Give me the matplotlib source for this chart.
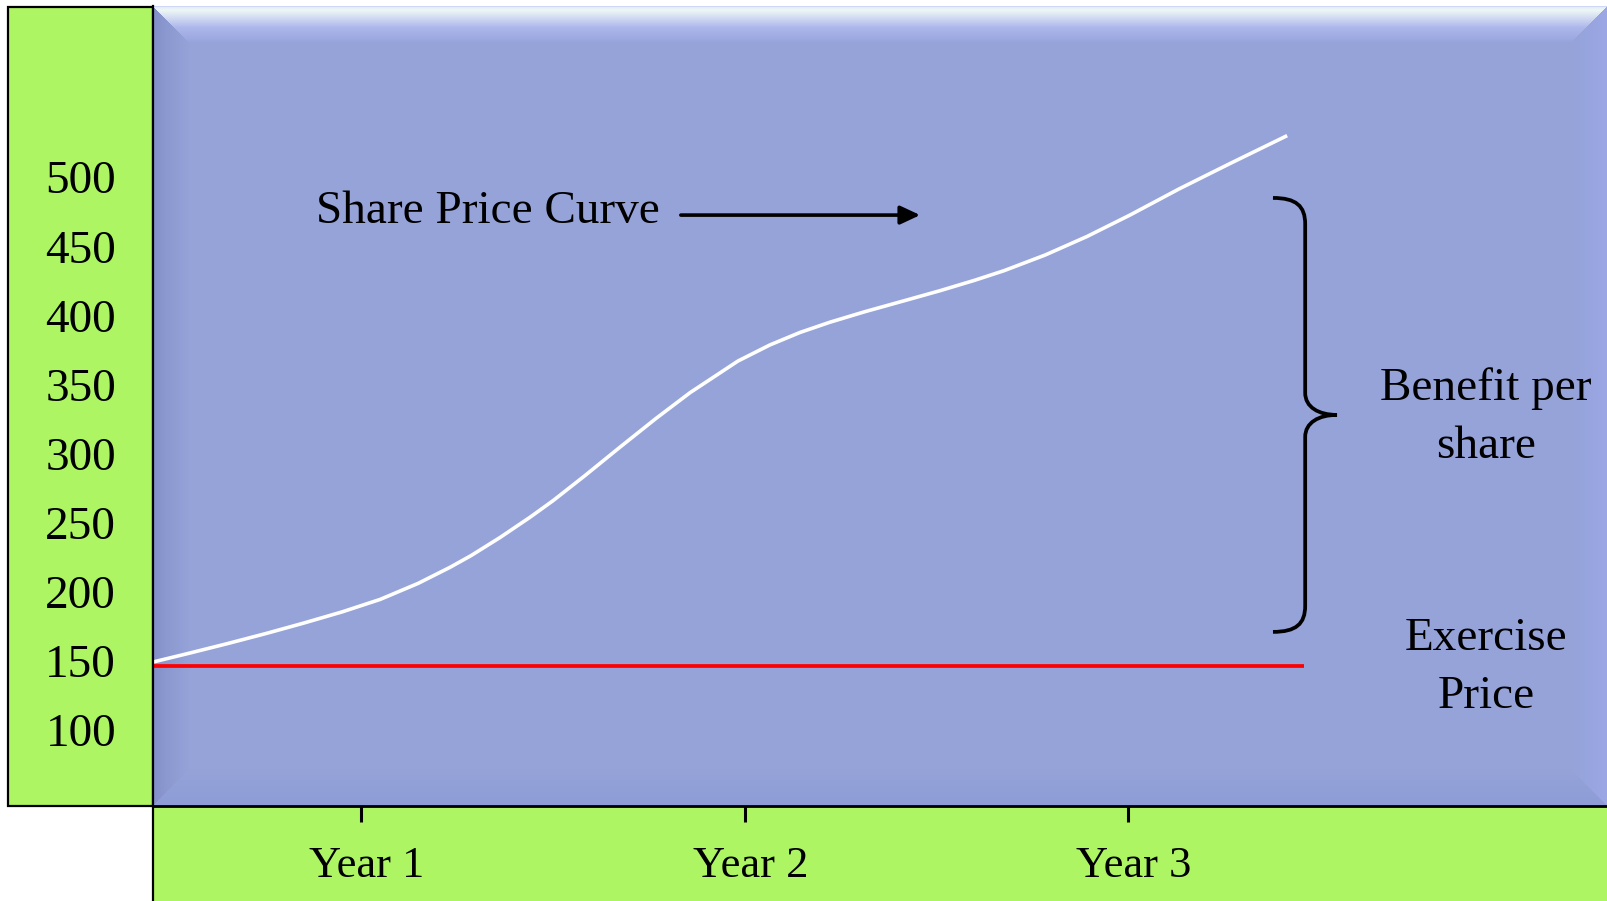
import numpy as np
import matplotlib
matplotlib.use("Agg")
import matplotlib.pyplot as plt
from matplotlib.patches import Rectangle, PathPatch
from matplotlib.path import Path
from matplotlib.transforms import ScaledTranslation

plt.rcParams['font.family'] = ['Liberation Serif', 'DejaVu Serif']

# data
year_ticks = [1, 2, 3]
year_labels = ['Year 1', 'Year 2', 'Year 3']
price_ticks = [100, 150, 200, 250, 300, 350, 400, 450, 500]

curve_x = [0.458, 0.554, 0.653, 0.752, 0.851, 0.950, 1.050, 1.149, 1.232, 1.287,
           1.362, 1.441, 1.501, 1.584, 1.675, 1.769, 1.858, 1.983, 2.066, 2.145,
           2.223, 2.314, 2.411, 2.510, 2.601, 2.677, 2.784, 2.893, 3.005, 3.133,
           3.266, 3.415]
curve_y = [149.2, 155.7, 162.6, 169.8, 177.4, 185.4, 194.5, 206.1, 217.7, 226.2,
           239.2, 254.0, 266.0, 284.1, 304.6, 325.4, 344.1, 367.0, 378.6, 387.7,
           395.1, 402.7, 410.2, 417.9, 425.5, 432.4, 443.7, 457.1, 472.6, 491.5,
           509.9, 530.1]

exercise_price = 146.3
exercise_x = [0.458, 3.459]

brace_top = 485.0
brace_bottom = 171.0
brace_x = 3.462

GREEN = '#adf562'
BASE = np.array([149, 163, 217]) / 255.0

W, H, DPI = 1607, 901, 100
fig = plt.figure(figsize=(W / DPI, H / DPI), dpi=DPI, facecolor='white')

# blue plot panel
ax_l, ax_t, ax_r, ax_b = 153, 6, 1607, 806
ax = fig.add_axes([ax_l / W, (H - ax_b) / H, (ax_r - ax_l) / W, (ax_b - ax_t) / H])
ax.set_facecolor('none')
xlim = (0.4576, 4.249)
ylim = (45.0, 623.9)

# green side panels
fig.add_artist(Rectangle((8 / W, (H - 806) / H), 145 / W, 799 / H, transform=fig.transFigure,
                         facecolor=GREEN, edgecolor='black', lw=1.6, zorder=-2))
fig.add_artist(Rectangle((153 / W, -10 / H), 1.1, (H - 806 + 10) / H, transform=fig.transFigure,
                         facecolor=GREEN, edgecolor='black', lw=1.6, zorder=-2))


def bevel_image(h, w, bw=37.0):
    yy, xx = np.mgrid[0:h, 0:w].astype(float)
    dist = np.stack([yy + 0.5, h - yy - 0.5, xx + 0.5, w - xx - 0.5])
    side = np.argmin(dist, axis=0)
    d = np.min(dist, axis=0)
    base = tuple(BASE * 255)
    stops = {
        0: ([0, 1.5, 4, 10, 22, 32, bw],
            [(196, 204, 246), (228, 238, 246), (238, 247, 245), (216, 226, 243),
             (172, 182, 234), (158, 170, 226), base]),
        1: ([0, 3, bw], [(140, 153, 214), (143, 157, 215), base]),
        2: ([0, 12, bw], [(130, 142, 200), (139, 152, 207), base]),
        3: ([0, 14, bw], [(156, 168, 230), (152, 165, 224), base]),
    }
    img = np.ones((h, w, 3)) * BASE
    for s, (pos, cols) in stops.items():
        cols = np.array(cols) / 255.0
        m = (side == s) & (d < bw)
        for c in range(3):
            img[..., c][m] = np.interp(d[m], pos, cols[:, c])
    return img


ax.imshow(bevel_image(ax_b - ax_t, ax_r - ax_l), extent=(xlim[0], xlim[1], ylim[0], ylim[1]),
          aspect='auto', origin='upper', interpolation='nearest', zorder=0)

# exercise price and share price curve
ax.plot(exercise_x, [exercise_price, exercise_price], color='#ff0000', lw=2.7,
        solid_capstyle='butt', zorder=3)
ax.plot(curve_x, curve_y, color='white', lw=2.6, solid_joinstyle='round',
        solid_capstyle='butt', zorder=4)

# brace
tip_x = brace_x - 0.084
pt_x = brace_x + 0.083
mid = (brace_top + brace_bottom) / 2
h1, h2 = 19.0, 16.0
verts = [(tip_x, brace_top),
         (tip_x + 0.06, brace_top), (brace_x, brace_top - 0.3 * h1), (brace_x, brace_top - h1),
         (brace_x, mid + h2),
         (brace_x, mid + 0.35 * h2), (brace_x + 0.035, mid), (pt_x, mid),
         (brace_x + 0.035, mid), (brace_x, mid - 0.35 * h2), (brace_x, mid - h2),
         (brace_x, brace_bottom + h1),
         (brace_x, brace_bottom + 0.3 * h1), (tip_x + 0.06, brace_bottom), (tip_x, brace_bottom)]
codes = [Path.MOVETO] + [Path.CURVE4] * 3 + [Path.LINETO] + [Path.CURVE4] * 6 + \
        [Path.LINETO] + [Path.CURVE4] * 3
ax.add_patch(PathPatch(Path(verts, codes), facecolor='none', edgecolor='black', lw=2.7, zorder=5))

# labels
ax.text(0.883, 466.9, 'Share Price Curve', fontsize=34, ha='left', va='baseline', zorder=6)
ax.annotate('', xy=(2.458, 472.6), xytext=(1.834, 472.6),
            arrowprops=dict(arrowstyle='-|>,head_length=0.6,head_width=0.28', mutation_scale=20,
                            lw=2.6, color='black', shrinkA=0, shrinkB=0), zorder=6)
ax.text(3.933, 338.8, 'Benefit per', fontsize=34, ha='center', va='baseline', zorder=6)
ax.text(3.933, 296.8, 'share', fontsize=34, ha='center', va='baseline', zorder=6)
ax.text(3.933, 157.9, 'Exercise', fontsize=34, ha='center', va='baseline', zorder=6)
ax.text(3.933, 115.9, 'Price', fontsize=34, ha='center', va='baseline', zorder=6)

ax.set_xlim(*xlim)
ax.set_ylim(*ylim)
ax.set_xticks(year_ticks)
ax.set_xticklabels(year_labels)
ax.set_yticks(price_ticks)
ax.set_yticklabels([str(v) for v in price_ticks])
ax.tick_params(axis='x', direction='out', length=11.5, width=2.2, color='black',
               labelsize=32, pad=39.6)
ax.tick_params(axis='y', length=0, labelsize=34, pad=26.6)
shift = ScaledTranslation(6 / DPI, 0, fig.dpi_scale_trans)
for lbl in ax.get_xticklabels():
    lbl.set_verticalalignment('baseline')
    lbl.set_transform(lbl.get_transform() + shift)

for s in ['top', 'right']:
    ax.spines[s].set_visible(False)
ax.spines['left'].set_linewidth(1.6)
ax.spines['bottom'].set_linewidth(2.0)
ax.spines['left'].set_zorder(7)
ax.spines['bottom'].set_zorder(7)

fig.savefig('out.png', dpi=DPI, facecolor='white')
